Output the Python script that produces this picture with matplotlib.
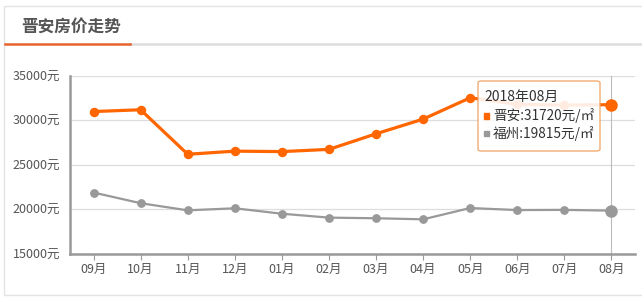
import matplotlib
matplotlib.use('Agg')
from matplotlib import pyplot as plt
import matplotlib.patches as patches
from matplotlib.lines import Line2D

plt.rcParams['font.family'] = ['Noto Sans CJK SC', 'DejaVu Sans']

months = ['09月', '10月', '11月', '12月', '01月', '02月',
          '03月', '04月', '05月', '06月', '07月', '08月']
jinan = [30950, 31150, 26150, 26500, 26450, 26700,
         28450, 30100, 32500, 31750, 31680, 31720]
fuzhou = [21850, 20650, 19850, 20080, 19470, 19030,
          18960, 18840, 20110, 19880, 19900, 19815]
yticks = [15000, 20000, 25000, 30000, 35000]
ylabels = ['%d元' % v for v in yticks]
tip_title = '2018年08月'
tip_rows = ['晋安:31720元/㎡', '福州:19815元/㎡']

ORANGE = '#ff6600'
GRAY = '#999999'
W, H = 642, 298

fig = plt.figure(figsize=(W / 100, H / 100), dpi=100)
fig.patch.set_facecolor('white')


def fx(px):
    return px / W


def fy(py):
    return 1 - py / H


# card frame + header
fig.add_artist(patches.Rectangle((fx(4), fy(295)), fx(W), fy(6) - fy(295),
                                 transform=fig.transFigure, fill=False,
                                 edgecolor='#e3e3e3', linewidth=1))
fig.add_artist(Line2D([fx(130), fx(W)], [fy(44), fy(44)], transform=fig.transFigure,
                      color='#dddddd', linewidth=1.8))
fig.add_artist(Line2D([fx(5), fx(130)], [fy(44), fy(44)], transform=fig.transFigure,
                      color='#e8632c', linewidth=1.8))
fig.text(fx(21), fy(28), '晋安房价走势', fontsize=12, fontweight='bold',
         color='#555555', va='center', ha='left')

ax = fig.add_axes([fx(70), fy(253.5), fx(635) - fx(70), fy(75.5) - fy(253.5)])
x = list(range(len(months)))

ax.plot(x, jinan, color=ORANGE, linewidth=2.3, marker='o', markersize=5.8, zorder=4)
ax.plot(x, fuzhou, color=GRAY, linewidth=1.6, marker='o', markersize=5.3, zorder=3)
ax.plot(x[-1], jinan[-1], 'o', color=ORANGE, markersize=8, zorder=5)
ax.plot(x[-1], fuzhou[-1], 'o', color=GRAY, markersize=8, zorder=5)
ax.axvline(x[-1], color='#bbbbbb', linewidth=0.8, zorder=2)

ax.set_xlim(-0.5, len(months) - 0.5)
ax.set_ylim(yticks[0], yticks[-1])
ax.set_xticks(x)
ax.set_xticklabels(months)
ax.set_yticks(yticks)
ax.set_yticklabels(ylabels)
ax.grid(axis='y', color='#dddddd', linewidth=0.9)
ax.set_axisbelow(True)
ax.tick_params(axis='x', length=4, color=GRAY, labelsize=9, labelcolor='#555555', pad=3)
ax.tick_params(axis='y', length=0, labelsize=9, labelcolor='#555555', pad=7)
for s in ['top', 'right']:
    ax.spines[s].set_visible(False)
for s in ['left', 'bottom']:
    ax.spines[s].set_color(GRAY)
    ax.spines[s].set_linewidth(1.8)

# tooltip
tip = patches.FancyBboxPatch((fx(478), fy(151)), fx(600) - fx(478), fy(81) - fy(151),
                             boxstyle='round,pad=0,rounding_size=0.006',
                             transform=fig.transFigure, facecolor='white', alpha=0.88,
                             edgecolor='#f0a060', linewidth=1, zorder=10)
fig.add_artist(tip)
fig.text(fx(484), fy(97), tip_title, fontsize=10, color='#333333', va='center', zorder=11)
for i, (row, c) in enumerate(zip(tip_rows, [ORANGE, GRAY])):
    yc = 116 + i * 17.5
    fig.add_artist(patches.Rectangle((fx(484), fy(yc + 2.5)), fx(5), fy(0) - fy(5),
                                     transform=fig.transFigure, color=c, zorder=11))
    fig.text(fx(493), fy(yc), row, fontsize=9.8, color='#333333', va='center', zorder=11)

fig.savefig('out.png', dpi=100)
